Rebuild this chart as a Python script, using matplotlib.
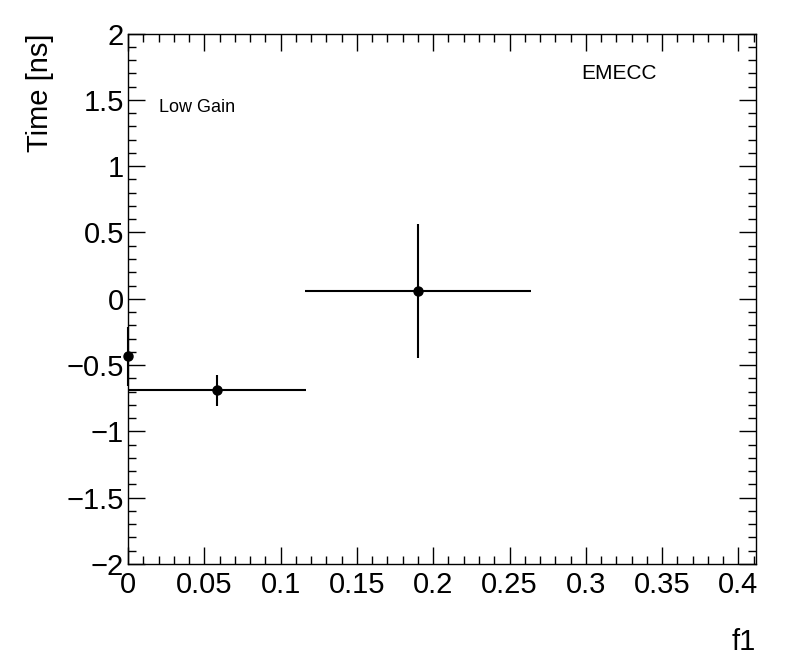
import matplotlib
matplotlib.use("Agg")
from matplotlib import pyplot as plt
from matplotlib.ticker import MultipleLocator
import numpy as np

plt.rcParams['font.family'] = ['Liberation Sans', 'DejaVu Sans']

# data
x = np.array([0.0, 0.0585, 0.1898])
y = np.array([-0.435, -0.69, 0.061])
xerr = np.array([0.0, 0.058, 0.0741])
yerr = np.array([0.225, 0.116, 0.504])

fig = plt.figure(figsize=(7.96, 6.72), dpi=100)
ax = fig.add_axes([0.1608, 0.1607, 0.7889, 0.7894])

ax.errorbar(x, y, xerr=xerr, yerr=yerr, fmt='o', color='black',
            markersize=6.5, elinewidth=1.5, capsize=0, clip_on=False, zorder=3)

ax.set_xlim(0, 0.4115)
ax.set_ylim(-2, 2)

#ROOT style ticks
ax.xaxis.set_major_locator(MultipleLocator(0.05))
ax.xaxis.set_minor_locator(MultipleLocator(0.01))
ax.yaxis.set_major_locator(MultipleLocator(0.5))
ax.yaxis.set_minor_locator(MultipleLocator(0.1))
ax.tick_params(which='both', direction='in', top=True, right=True, width=1)
ax.tick_params(which='major', length=12, labelsize=21)
ax.tick_params(which='minor', length=6)
ax.tick_params(axis='x', pad=5)
ax.tick_params(axis='y', pad=3)
ax.xaxis.set_major_formatter(plt.FuncFormatter(lambda v, p: ('%g' % round(v, 3))))
ax.yaxis.set_major_formatter(plt.FuncFormatter(lambda v, p: ('%g' % round(v, 3)).replace('-', '\u2212')))
for s in ax.spines.values():
    s.set_linewidth(1)

ax.set_xlabel('f1', fontsize=21, loc='right')
ax.xaxis.set_label_coords(1.0, -0.12)
ax.set_ylabel('Time [ns]', fontsize=21, loc='top')
ax.yaxis.set_label_coords(-0.118, 1.0)

ax.text(0.049, 0.861, 'Low Gain', transform=ax.transAxes, fontsize=13, va='center')
ax.text(0.722, 0.9255, 'EMECC', transform=ax.transAxes, fontsize=15, va='center')

fig.savefig('out.png', dpi=100)
